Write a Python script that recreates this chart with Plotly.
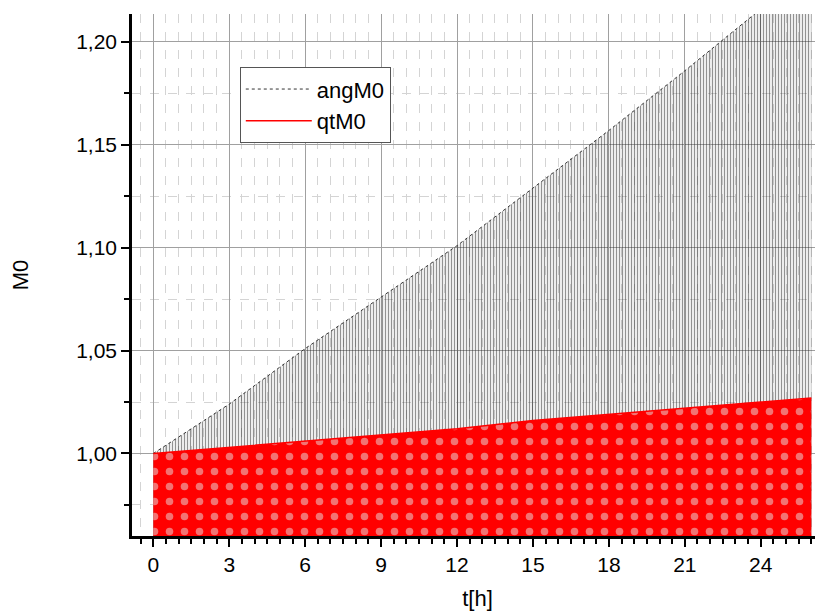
import plotly.graph_objects as go

# Envelope readings (hours, M0)
T_ENV = [0, 3, 6, 9, 12, 15, 18, 21, 24, 26]
ANG_TOP = [1.000, 1.024, 1.051, 1.076, 1.101, 1.129, 1.157, 1.186, 1.216, 1.236]
QT_TOP = [1.000, 1.003, 1.006, 1.009, 1.012, 1.016, 1.019, 1.022, 1.025, 1.027]
LOW = 0.95  # lower edge of the oscillations (below visible range)

X_TICKS = [0, 3, 6, 9, 12, 15, 18, 21, 24]
Y_TICKS = [1.00, 1.05, 1.10, 1.15, 1.20]

FONT = "Liberation Sans, Arial, sans-serif"

def band(top):
    xs = list(T_ENV) + list(reversed(T_ENV))
    ys = list(top) + [LOW] * len(T_ENV)
    return xs, ys

fig = go.Figure()

ax, ay = band(ANG_TOP)
fig.add_trace(go.Scatter(
    x=ax, y=ay, mode="lines", fill="toself", line=dict(width=0),
    fillcolor="rgba(0,0,0,0)",
    fillpattern=dict(shape="|", fgcolor="#262626", bgcolor="rgba(0,0,0,0)",
                     size=3, solidity=0.45),
    showlegend=False, hoverinfo="skip"))

qx, qy = band(QT_TOP)
fig.add_trace(go.Scatter(
    x=qx, y=qy, mode="lines", fill="toself", line=dict(width=0),
    fillcolor="#ff0000",
    showlegend=False, hoverinfo="skip"))
fig.add_trace(go.Scatter(
    x=qx, y=qy, mode="lines", fill="toself", line=dict(width=0),
    fillcolor="rgba(0,0,0,0)",
    fillpattern=dict(shape=".", fgcolor="#e6e6e6", bgcolor="rgba(0,0,0,0)",
                     size=15, solidity=0.2),
    showlegend=False, hoverinfo="skip"))

fig.add_trace(go.Scatter(
    x=T_ENV, y=ANG_TOP, mode="lines", name="angM0",
    line=dict(color="#333333", width=1, dash="dot")))
fig.add_trace(go.Scatter(
    x=T_ENV, y=QT_TOP, mode="lines", name="qtM0",
    line=dict(color="#ff0000", width=1.5)))

fig.update_layout(
    width=815, height=607,
    margin=dict(l=124, r=0, t=6, b=79, autoexpand=False),
    paper_bgcolor="white", plot_bgcolor="white",
    separators=", ",
    font=dict(family=FONT, size=21, color="black"),
    showlegend=True,
    legend=dict(x=0.156, y=0.898, xanchor="left", yanchor="top",
                bgcolor="white", bordercolor="#555555", borderwidth=1,
                font=dict(size=22), itemwidth=66, tracegroupgap=0),
    xaxis=dict(
        range=[-0.842, 26.46], tickvals=X_TICKS, ticktext=[str(v) for v in X_TICKS],
        ticks="outside", ticklen=8, tickwidth=2, tickcolor="black",
        showline=True, linecolor="black", linewidth=2.5,
        showgrid=True, gridcolor="#a0a0a0", gridwidth=1,
        zeroline=False, automargin=False,
        minor=dict(dtick=0.5, tick0=0, ticks="outside", ticklen=5, tickwidth=1.5,
                   tickcolor="black", showgrid=True, gridcolor="#d4d4d4",
                   griddash="dash", gridwidth=1),
        title=dict(text="t[h]", font=dict(size=22), standoff=16),
        tickfont=dict(size=21),
    ),
    yaxis=dict(
        range=[0.9599, 1.2136], tickvals=Y_TICKS,
        ticktext=[f"{v:.2f}".replace(".", ",") for v in Y_TICKS],
        ticks="outside", ticklen=8, tickwidth=2, tickcolor="black",
        showline=True, linecolor="black", linewidth=2.5,
        showgrid=True, gridcolor="#a0a0a0", gridwidth=1,
        zeroline=False, automargin=False,
        minor=dict(dtick=0.025, tick0=1.0, ticks="outside", ticklen=5, tickwidth=1.5,
                   tickcolor="black", showgrid=True, gridcolor="#d4d4d4",
                   griddash="dash", gridwidth=1),
        title=dict(text="M0", font=dict(size=22), standoff=46),
        tickfont=dict(size=21),
        ticklabelstandoff=0,
    ),
)

fig.write_html("out.html")
